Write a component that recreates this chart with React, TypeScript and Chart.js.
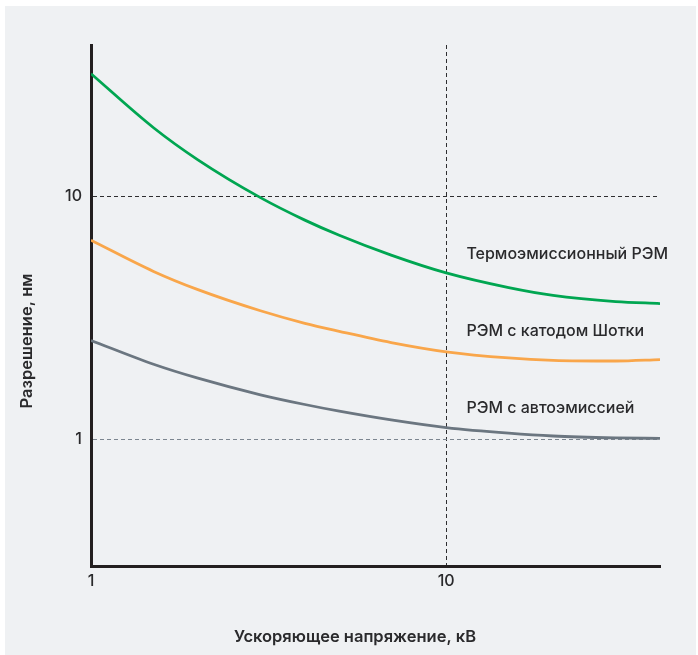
import React, { useEffect, useRef } from 'react';
import { Chart, registerables } from 'chart.js';

Chart.register(...registerables);

// Accelerating voltage, kV
const voltages = [1, 1.5, 2, 3, 4, 5, 7, 10, 15, 20, 30, 40];
// Resolution, nm
const thermionic = [32.05, 19.2, 14.16, 9.89, 7.99, 6.92, 5.73, 4.84, 4.21, 3.91, 3.69, 3.62];
const schottky = [6.6, 4.91, 4.13, 3.38, 3.0, 2.78, 2.5, 2.29, 2.161, 2.113, 2.099, 2.128];
const fieldEmission = [2.55, 2.035, 1.783, 1.523, 1.389, 1.304, 1.2, 1.116, 1.058, 1.03, 1.012, 1.0066];

const seriesNames = ['Термоэмиссионный РЭМ', 'РЭМ с катодом Шотки', 'РЭМ с автоэмиссией'];
const seriesColors = ['#00a651', '#f9a64a', '#6b7680'];
const labelX = 11.4;
const labelY = [5.8, 2.78, 1.34];

const xTicks = [1, 10];
const yTicks = [1, 10];
const xRange = [1, 40];
const yRange = [0.319, 42.1];
const xTitle = 'Ускоряющее напряжение, кВ';
const yTitle = 'Разрешение, нм';

const FONT = 'Inter, "Open Sans", sans-serif';
const TEXT = '#2a2a2c';

const textPlugin = {
  id: 'textPlugin',
  afterDatasetsDraw(chart: any) {
    const { ctx, scales } = chart;
    const xs = scales.x;
    const ys = scales.y;
    ctx.save();
    ctx.fillStyle = TEXT;
    ctx.font = `500 16px ${FONT}`;
    ctx.textAlign = 'left';
    ctx.textBaseline = 'middle';
    seriesNames.forEach((name, i) => {
      ctx.fillText(name, xs.getPixelForValue(labelX), ys.getPixelForValue(labelY[i]));
    });
    ctx.font = `600 16.5px ${FONT}`;
    ctx.textAlign = 'center';
    ctx.fillText(xTitle, 355, 637);
    ctx.translate(27, 341);
    ctx.rotate(-Math.PI / 2);
    ctx.fillText(yTitle, 0, 0);
    ctx.restore();
  },
};

function App() {
  const ref = useRef<HTMLCanvasElement | null>(null);
  useEffect(() => {
    if (!ref.current) return;
    const mk = (vals: number[]) => voltages.map((v, i) => ({ x: v, y: vals[i] }));
    const chart = new Chart(ref.current, {
      type: 'line',
      data: {
        datasets: [thermionic, schottky, fieldEmission].map((vals, i) => ({
          label: seriesNames[i],
          data: mk(vals),
          borderColor: seriesColors[i],
          borderWidth: 2.8,
          pointRadius: 0,
          cubicInterpolationMode: 'monotone' as const,
          fill: false,
        })),
      },
      options: {
        responsive: false,
        animation: false,
        events: [],
        layout: { padding: { top: 45, right: 38, left: 0, bottom: 0 } },
        plugins: { legend: { display: false }, tooltip: { enabled: false }, title: { display: false } },
        scales: {
          x: {
            type: 'logarithmic',
            min: xRange[0],
            max: xRange[1],
            afterBuildTicks: (s: any) => {
              s.ticks = xTicks.map((v) => ({ value: v }));
            },
            afterFit: (s: any) => {
              s.height = 89;
            },
            ticks: {
              callback: (v: any) => String(v),
              color: TEXT,
              font: { family: FONT, size: 16, weight: 500 },
              padding: 6,
              maxRotation: 0,
              autoSkip: false,
            },
            grid: {
              drawTicks: false,
              color: (c: any) => (c.tick && c.tick.value === 10 ? '#2e2e30' : 'rgba(0,0,0,0)'),
              lineWidth: 1,
            },
            border: { display: true, color: '#231f20', width: 3, dash: [4, 3] },
          },
          y: {
            type: 'logarithmic',
            min: yRange[0],
            max: yRange[1],
            afterBuildTicks: (s: any) => {
              s.ticks = yTicks.map((v) => ({ value: v }));
            },
            afterFit: (s: any) => {
              s.width = 91;
            },
            ticks: {
              callback: (v: any) => String(v),
              color: TEXT,
              font: { family: FONT, size: 16, weight: 500 },
              padding: 9,
              autoSkip: false,
            },
            grid: {
              drawTicks: false,
              color: (c: any) => (c.tick && c.tick.value === 10 ? '#2e2e30' : '#7c8690'),
              lineWidth: 1,
            },
            border: { display: true, color: '#231f20', width: 3, dash: [4, 3] },
          },
        },
      },
      plugins: [textPlugin],
    });
    return () => chart.destroy();
  }, []);

  return (
    <div style={{ position: 'fixed', left: 0, top: 0, width: 698, height: 655, background: '#ffffff' }}>
      <div style={{ position: 'absolute', left: 5, top: 6, width: 691, height: 649, background: '#eff1f3' }} />
      <canvas ref={ref} width={698} height={655} style={{ position: 'absolute', left: 0, top: 0, width: 698, height: 655 }} />
    </div>
  );
}

export default App;
